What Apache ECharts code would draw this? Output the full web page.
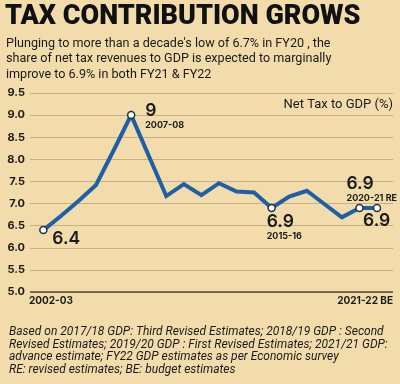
<!DOCTYPE html>
<html><head><meta charset="utf-8">
<script src="https://cdn.jsdelivr.net/npm/echarts@6/dist/echarts.min.js"></script>
<style>html,body{margin:0;padding:0;background:#f3dcab;}#c{width:400px;height:384px;}</style>
</head><body><div id="c"></div>
<script>
const years = ['2002-03','2003-04','2004-05','2005-06','2006-07','2007-08','2008-09','2009-10','2010-11','2011-12','2012-13','2013-14','2014-15','2015-16','2016-17','2017-18','2018-19','2019-20','2020-21 RE','2021-22 BE'];
const netTax = [6.4, 6.72, 7.06, 7.42, 8.2, 9.0, 8.08, 7.17, 7.44, 7.19, 7.46, 7.27, 7.25, 6.9, 7.16, 7.29, 6.99, 6.69, 6.9, 6.9];
const yTicks = [5.0, 5.5, 6.0, 6.5, 7.0, 7.5, 8.0, 8.5, 9.0, 9.5];
const xEndLabels = ['2002-03', '2021-22 BE'];
const callouts = [
  {i: 0, text: '6.4', sub: '', dx: 9, dy: 0},
  {i: 5, text: '9', sub: '2007-08', dx: 14, dy: -13},
  {i: 13, text: '6.9', sub: '2015-16', dx: -5, dy: 5},
  {i: 18, text: '6.9', sub: '2020-21 RE', dx: -13, dy: -33},
  {i: 19, text: '6.9', sub: '', dx: -14, dy: 4}
];
const title = 'TAX CONTRIBUTION GROWS';
const subtitle = "Plunging to more than a decade's low of 6.7% in FY20 , the\nshare of net tax revenues to GDP is expected to marginally\nimprove to 6.9% in both FY21 & FY22";
const legendText = 'Net Tax to GDP (%)';
const footnote = 'Based on 2017/18 GDP: Third Revised Estimates; 2018/19 GDP : Second\nRevised Estimates; 2019/20 GDP : First Revised Estimates; 2021/21 GDP:\nadvance estimate; FY22 GDP estimates as per Economic survey\nRE: revised estimates; BE: budget estimates';

const calloutMap = {};
callouts.forEach(c => calloutMap[c.i] = c);
const seriesData = netTax.map((v, i) => {
  const c = calloutMap[i];
  if (!c) return {value: [i, v], symbol: 'none'};
  return {
    value: [i, v],
    symbol: 'circle', symbolSize: 7,
    itemStyle: {color: '#ffffff', borderColor: '#1d3550', borderWidth: 1.5},
    label: {
      show: true, position: 'inside', align: 'left', verticalAlign: 'top',
      offset: [c.dx, c.dy],
      formatter: c.sub ? '{n|' + c.text + '}\n{p|' + c.sub + '}' : '{n|' + c.text + '}',
      rich: {
        n: {fontFamily: 'Inter', fontSize: 17.5, fontWeight: 600, color: '#1a1a1a', lineHeight: 18},
        p: {fontFamily: 'Inter', fontSize: 9, fontWeight: 700, color: '#1a1a1a', lineHeight: 11}
      }
    }
  };
});

const chart = echarts.init(document.getElementById('c'), null, {renderer: 'canvas'});
chart.setOption({
  backgroundColor: '#f3dcab',
  animation: false,
  grid: {left: 30, right: 7, top: 93, bottom: 92},
  xAxis: {
    type: 'value', min: -0.76, max: 19.91,
    axisLine: {show: false}, axisTick: {show: false}, axisLabel: {show: false}, splitLine: {show: false}
  },
  yAxis: {
    type: 'value', min: yTicks[0], max: yTicks[yTicks.length - 1], interval: 0.5,
    axisLine: {show: false}, axisTick: {show: false},
    axisLabel: {formatter: v => v.toFixed(1), color: '#1a1a1a', fontFamily: 'Inter', fontWeight: 700, fontSize: 11, margin: 5},
    splitLine: {lineStyle: {color: '#c9b083', width: 1}}
  },
  series: [{
    type: 'line', data: seriesData, lineStyle: {color: '#1f5fa6', width: 4, join: 'miter'},
    symbol: 'none', z: 3,
    markLine: {silent: true, symbol: 'none', label: {show: false},
      lineStyle: {color: '#5a4830', width: 1.5, type: 'solid'},
      data: [{yAxis: yTicks[0]}]}
  }],
  graphic: [
    {type: 'text', left: 5, top: 4, style: {text: title, fontFamily: 'Roboto', fontWeight: 900, fontSize: 27, fill: '#111'}},
    {type: 'text', left: 6, top: 36, style: {text: subtitle, fontFamily: 'Roboto', fontSize: 12.6, lineHeight: 15.5, fill: '#1a1a1a'}},
    {type: 'text', right: 7, top: 98, style: {text: legendText, fontFamily: 'Roboto', fontSize: 13, fill: '#1a1a1a'}},
    {type: 'text', left: 29, top: 296, style: {text: xEndLabels[0], fontFamily: 'Inter', fontWeight: 700, fontSize: 10, fill: '#1a1a1a'}},
    {type: 'text', right: 7, top: 296, style: {text: xEndLabels[1], fontFamily: 'Inter', fontWeight: 700, fontSize: 10, fill: '#1a1a1a'}},
    {type: 'text', left: 9, top: 326, style: {text: footnote, fontFamily: 'Roboto', fontStyle: 'italic', fontSize: 12, lineHeight: 12.5, fill: '#1a1a1a'}}
  ]
});
</script></body></html>
